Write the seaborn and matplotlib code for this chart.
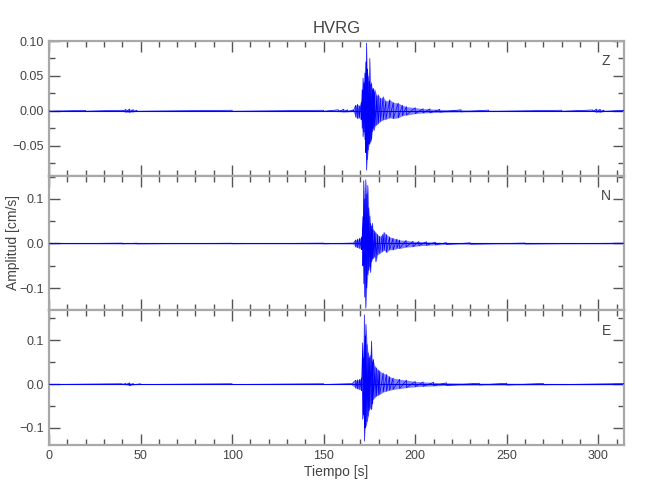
import numpy as np
import pandas as pd
import seaborn as sns
import matplotlib.pyplot as plt
from matplotlib.ticker import MultipleLocator, FuncFormatter

# Station and components
station = "HVRG"
components = ["Z", "N", "E"]

# Envelope knots: time [s], upper and lower amplitude [cm/s]
t_z = [0, 20, 40, 42, 44, 46, 48, 100, 150, 158, 161, 163, 166,
       167.5, 168.5, 169.5, 170.5, 171.0, 171.5, 172.0, 172.5, 173.0, 173.4,
       173.8, 174.3, 174.8, 175.2, 175.7, 176.1, 176.6, 177.0, 177.5, 178.0,
       179.0, 179.8, 181.0, 182.5, 184.0, 186.1, 188.0, 190.7, 193.0, 195.2,
       200.0, 204.3, 208.0, 213.4, 225, 240, 280, 297, 299, 301, 303, 314]
hi_z = [0.0006, 0.0006, 0.0008, 0.002, 0.0025, 0.0018, 0.0007, 0.0008, 0.0008, 0.0015, 0.0022, 0.0015, 0.0012,
        0.008, 0.0095, 0.007, 0.012, 0.030, 0.047, 0.040, 0.054, 0.070, 0.097,
        0.060, 0.049, 0.042, 0.075, 0.038, 0.040, 0.030, 0.032, 0.027, 0.030,
        0.022, 0.023, 0.018, 0.020, 0.014, 0.016, 0.012, 0.011, 0.008, 0.006,
        0.0045, 0.003, 0.0028, 0.002, 0.0015, 0.001, 0.0008, 0.0012, 0.0025, 0.0022, 0.001, 0.0008]
lo_z = [-0.0006, -0.0006, -0.0008, -0.002, -0.0022, -0.0015, -0.0007, -0.0008, -0.0008, -0.0012, -0.0018, -0.0015, -0.001,
        -0.009, -0.011, -0.010, -0.013, -0.025, -0.037, -0.030, -0.041, -0.060, -0.085,
        -0.070, -0.056, -0.048, -0.046, -0.044, -0.041, -0.030, -0.025, -0.028, -0.022,
        -0.020, -0.018, -0.015, -0.013, -0.012, -0.010, -0.011, -0.010, -0.007, -0.006,
        -0.004, -0.003, -0.0028, -0.002, -0.0015, -0.001, -0.0008, -0.001, -0.002, -0.002, -0.001, -0.0008]

t_n = [0, 40, 48, 100, 150, 166,
       167.5, 168.5, 169.7, 170.8, 171.4, 171.9, 172.4, 173.0, 173.5, 174.1,
       174.6, 175.2, 175.6, 176.1, 176.6, 177.0, 177.8, 178.5, 179.5, 180.6,
       182.0, 183.0, 184.3, 186.0, 187.9, 190.0, 191.5, 195.0, 198.8, 202.0,
       206.1, 211.0, 217.0, 230, 260, 314]
hi_n = [0.0006, 0.0008, 0.0008, 0.0006, 0.0008, 0.001,
        0.008, 0.010, 0.012, 0.015, 0.060, 0.141, 0.100, 0.143, 0.110, 0.130,
        0.080, 0.061, 0.045, 0.039, 0.045, 0.031, 0.028, 0.024, 0.020, 0.016,
        0.020, 0.025, 0.020, 0.015, 0.012, 0.010, 0.008, 0.007, 0.005, 0.0045,
        0.004, 0.003, 0.002, 0.0015, 0.001, 0.0008]
lo_n = [-0.0006, -0.0008, -0.0008, -0.0006, -0.0008, -0.001,
        -0.008, -0.009, -0.011, -0.014, -0.050, -0.090, -0.120, -0.145, -0.100, -0.070,
        -0.060, -0.052, -0.065, -0.041, -0.035, -0.033, -0.030, -0.041, -0.025, -0.022,
        -0.018, -0.015, -0.020, -0.014, -0.014, -0.011, -0.011, -0.008, -0.007, -0.005,
        -0.004, -0.003, -0.002, -0.0015, -0.001, -0.0008]

t_e = [0, 40, 42, 44, 46, 50, 100, 150, 165,
       167.5, 168.5, 169.7, 170.6, 171.3, 171.8, 172.2, 172.7, 173.1, 173.7,
       174.3, 174.8, 175.3, 176.1, 176.6, 177.0, 178.0, 178.8, 179.8, 180.6,
       182.5, 184.3, 186.0, 187.9, 191.5, 195.2, 200, 204.3, 210, 217, 235,
       250, 270, 314]
hi_e = [0.0008, 0.0008, 0.0015, 0.003, 0.0015, 0.0008, 0.0008, 0.0008, 0.001,
        0.009, 0.010, 0.011, 0.014, 0.094, 0.060, 0.158, 0.110, 0.136, 0.090,
        0.071, 0.060, 0.065, 0.098, 0.050, 0.056, 0.040, 0.037, 0.032, 0.030,
        0.025, 0.022, 0.017, 0.014, 0.011, 0.009, 0.006, 0.005, 0.004, 0.003, 0.002,
        0.002, 0.0015, 0.0012]
lo_e = [-0.0008, -0.0008, -0.0015, -0.0035, -0.0015, -0.0008, -0.0008, -0.0008, -0.001,
        -0.009, -0.011, -0.012, -0.015, -0.080, -0.070, -0.130, -0.100, -0.095, -0.085,
        -0.073, -0.060, -0.055, -0.058, -0.045, -0.035, -0.030, -0.027, -0.025, -0.023,
        -0.018, -0.016, -0.014, -0.012, -0.010, -0.008, -0.006, -0.005, -0.004, -0.003, -0.002,
        -0.002, -0.0015, -0.0012]

# Axis limits per panel
ylims = [(-0.093, 0.100), (-0.150, 0.152), (-0.139, 0.168)]
ymajor = [0.05, 0.1, 0.1]
yminor = [0.025, 0.05, 0.05]
ydecimals = [2, 1, 1]
x_max = 314

traces = [(t_z, hi_z, lo_z), (t_n, hi_n, lo_n), (t_e, hi_e, lo_e)]


def make_fmt(nd):
    # unicode minus like the original plot
    return FuncFormatter(lambda v, pos: f"{v:.{nd}f}".replace("-", "\u2212")
                         if round(v, nd) != 0 else f"{0:.{nd}f}")


sns.set_theme(style="ticks")
plt.rcParams['font.family'] = ['Liberation Sans', 'DejaVu Sans']

spine_col = "#a8a8a8"
tick_col = "#555555"
text_col = "#444444"
blue = "#0000ff"

fig = plt.figure(figsize=(6.5, 5), dpi=100)
left, width = 49 / 650, 575 / 650
top, panel_h = 1 - 41 / 500, 134.7 / 500

for i, (comp, (t, hi, lo)) in enumerate(zip(components, traces)):
    ax = fig.add_axes([left, top - (i + 1) * panel_h, width, panel_h])

    # zero line and envelope fill
    ax.axhline(0, color=blue, lw=0.8, zorder=2)
    ax.fill_between(t, lo, hi, color=blue, alpha=0.5, lw=0, zorder=2)

    # zigzag between upper and lower knots (min/max style trace)
    zz = pd.DataFrame({
        "time": np.repeat(t, 2),
        "amp": np.column_stack([hi, lo]).ravel(),
    })
    sns.lineplot(data=zz, x="time", y="amp", sort=False, estimator=None,
                 color=blue, lw=0.5, ax=ax, zorder=3)

    ax.set_xlim(0, x_max)
    ax.set_ylim(*ylims[i])
    ax.xaxis.set_major_locator(MultipleLocator(50))
    ax.xaxis.set_minor_locator(MultipleLocator(10))
    ax.yaxis.set_major_locator(MultipleLocator(ymajor[i]))
    ax.yaxis.set_minor_locator(MultipleLocator(yminor[i]))
    ax.yaxis.set_major_formatter(make_fmt(ydecimals[i]))

    ax.tick_params(which="both", direction="in", top=True, right=True,
                   color=tick_col, labelcolor=text_col, labelsize=9, width=1)
    ax.tick_params(which="major", length=8)
    ax.tick_params(which="minor", length=4)
    for sp in ax.spines.values():
        sp.set_color(spine_col)
        sp.set_linewidth(1.6)

    ax.set_ylabel("")
    if i < 2:
        ax.set_xlabel("")
        ax.tick_params(labelbottom=False)
    else:
        ax.set_xlabel("Tiempo [s]", color=text_col, fontsize=10, labelpad=2)

    ax.text(0.969, 0.85, comp, transform=ax.transAxes, color=text_col,
            fontsize=10, ha="center", va="center")

    if i == 0:
        ax.set_title(station, color=text_col, fontsize=12, pad=6)

fig.text(0.02, 1 - 242 / 500, "Amplitud [cm/s]", rotation=90, color=text_col,
         fontsize=10, ha="center", va="center")

fig.savefig("out.png", dpi=100)
